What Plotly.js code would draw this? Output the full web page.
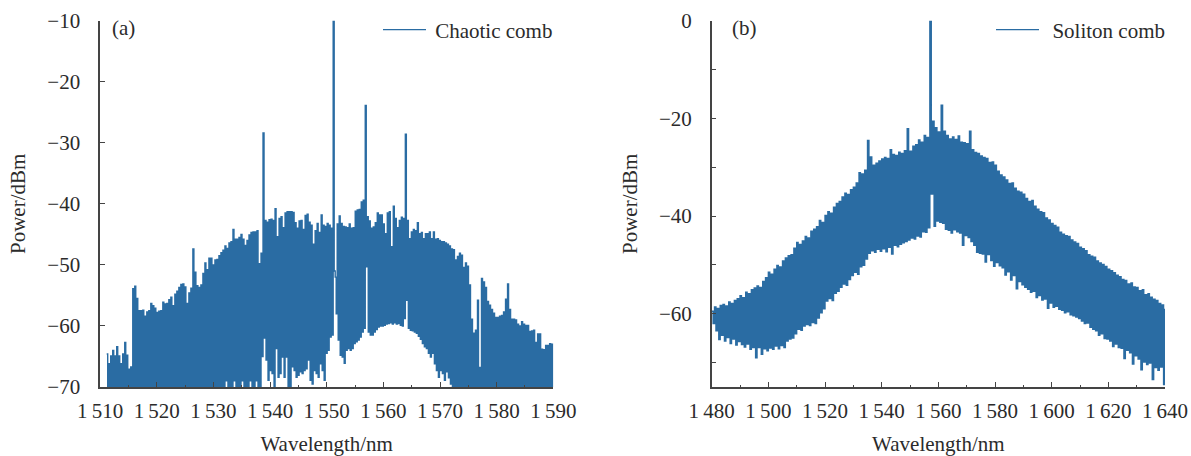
<!DOCTYPE html>
<html><head><meta charset="utf-8">
<script src="https://cdn.plot.ly/plotly-3.0.1.min.js"></script>
<style>html,body{margin:0;padding:0;background:#fff}#c{width:1191px;height:456px}</style>
</head><body><div id="c"></div>
<script>
// (a) chaotic comb: one peak and one floor value per comb line (dBm)
const chaoticStart = 1511.165, chaoticStep = 0.1769;
const chaoticPeaks = [
-64.6,-66.2,-64.9,-64.0,-64.9,-63.4,-64.9,-66.2,-64.6,-62.7,-64.8,-67.1,-66.7,-53.9,
-53.5,-55.5,-57.5,-57.5,-57.4,-58.4,-57.7,-57.5,-56.3,-56.7,-57.1,-57.8,-57.6,-57.5,-56.1,-56.4,-56.3,-55.7,-55.3,-56.7,-54.8,-54.3,-53.7,-53.2,-53.1,-53.6,-56.3,-54.6,-53.8,-47.4,-51.2,-53.4,-53.7,-53.3,-51.4,-49.7,-50.8,-48.9,-48.9,-50,-49.2,-49.1,-48.5,
-48,-47.6,-46.9,-47.3,-46.4,-46.2,-44.2,-45.8,-45.8,-45.5,-45,-45.8,-46.8,-46,-45.1,-44.7,-44.6,-44.6,-44.4,-49.8,-48.1,
-28.4,
-42.7,-43,-42.6,-42.5,-42.7,-40.8,-45.4,-42.4,-42.1,-43.9,-41.5,-41.3,-41.3,-41.3,-41.4,-43.1,-44,-42.8,-42.7,-44.2,-41.9,-41.7,-43,-43.5,-46.6,-44.4,-43.2,-44.7,-41.8,-43.5,-43.7,-43.2,-43.5,-44,
-10,-52,
-43.3,-42,-43.2,-43.7,-43.8,-43.9,-43.3,-44,-43.9,-41.2,-41,-40.9,-39.7,-39.4,
-23.9,
-42.1,-42.8,-44,-43.8,-43.1,-41.5,-41.8,-41.8,-43.3,-44.9,-41.5,-41.3,-47,-40.4,-42.4,-43.9,-42.7,-42.2,-42.4,
-28.6,
-42.7,-45.7,-44.6,-44.2,-44.4,-43.1,-44.9,-44.7,-45.7,-44.9,-44.9,-44.6,-45.7,-44.6,-45.8,-45.7,-46,-46.2,-46.2,
-46.4,-46.6,-46.9,-47.4,-47.5,-49.2,-48.6,-48.1,-48.4,-50.4,-49.7,-50.2,-53.3,-58.9,-61.2,-60.7,-55.8,-66.8,-52.2,-52.8,-53.7,-56,-56.6,-57.3,-57.9,-58.6,-58.6,-58.4,-58.3,-57.7,-55.6,-53.1,
-57.3,-58.9,-58.9,-59,-59.7,-60,-59.3,-59.7,-59.9,-59.9,-60.9,-60.8,-60.7,-62.7,-61.3,-61.3,-63.8,-63.9,-63.2,-63.2,-62.9,-63];
const chaoticFloors = [
-75,-75,-75,-75,-75,-75,-75,-75,-75,-75,
-75,-75,-75,-75,-75,-75,-75,-75,-75,-75,
-75,-75,-75,-75,-75,-75,-75,-75,-75,-75,
-75,-75,-75,-75,-75,-75,-75,-75,-75,-75,
-75,-75,-75,-75,-75,-75,-75,-75,-75,-75,
-75,-75,-75,-75,-75,-75,-75,-75,-75,-69,
-75,-75,-75,-69,-75,-75,-75,-69,-75,-75,
-75,-69,-75,-75,-69,-75,-75,-65,-62,-65.6,
-68.9,-67.3,-67.8,-72,-63.7,-68.4,-67.8,-65.1,-68.4,-65.1,-72,-72,-66.7,-67.3,-68.4,-68.1,-67.5,-67.8,-67.3,-67,-65.6,-68.9,-69.5,-67.3,-67.8,-68.4,-66.2,-67.3,-68.9,-64.5,-64,-61.8,
-61.5,-51,-58,
-62.3,-64.8,-65.1,-66.1,-64,-63.7,-64,-63.7,-62.9,-62.6,-62.3,-61.8,-61,-60.4,
-50.3,
-61,-61.5,-61.5,-61,-60.6,-60.2,-60,-60,-59.9,-59.7,-59.6,-59.5,-59.7,-59.5,-59.7,-59.6,-59.9,-60,-58.8,
-55.8,
-60.4,-60.7,-60.8,-61,-61.2,-61.7,-62.2,-62.9,-63.4,-63.7,-64.5,-65.1,-64.5,-66.2,-67.3,-68.4,-67.3,-67.8,-68.9,
-67.5,-68.5,-69.5,-70.5,-72,
-75,-75,-75,-75,-75,-75,-75,-75,-75,-75,
-75,-75,-75,-75,-75,-75,-75,-75,-75,-75,
-75,-75,-75,-75,-75,-75,-75,-75,-75,-75,
-75,-75,-75,-75,-75,-75,-75,-75,-75,-75,
-75,-75,-75,-75,-75,-75,-75,-75,-75];

// (b) soliton comb: upper and lower edge of the trace, one value per nm from 1480 nm
const solitonStart = 1480, solitonStep = 0.5;
const solitonUpper = [-59.5,
-58.6,-58.9,-58.3,-58.1,-58.4,-57.6,-57.9,-57.3,-56.9,-56.3,
-56.7,-55.6,-55.9,-55.1,-54.7,-54.3,-54.6,-53.4,-52.6,-51.5,
-51.9,-50.9,-50.1,-50.4,-49.2,-48.6,-48.1,-47.9,-46.6,-45.4,
-45.8,-45.1,-44.2,-44.5,-43.1,-42.7,-42.2,-40.9,-41.3,-39.9,
-39.1,-39.4,-38.2,-37.4,-37,-36.1,-35.3,-35.6,-34.6,-34.1,
-33.2,-31.1,-31.4,-30.6,-24.5,-27.9,-29.6,-29.2,-28.7,-28.3,
-28,-28.2,-26.4,-27.4,-27.6,-26.9,-27.2,-26.6,-22.1,-26.7,
-25.7,-25.4,-24.4,-24.9,-23.5,-23.9,0,-20.6,-21.9,-22.8,
-17.3,-22.6,-23.5,-24.2,-23.8,-24.3,-23.6,-24.9,-25,-25.2,
-22.6,-26.4,-27,-27.2,-27.7,-28,-28.2,-29,-28.9,-29.6,
-30.8,-31.6,-32,-32.6,-33.3,-33.2,-34.3,-34.9,-35.1,-35.5,
-36.4,-37,-36.8,-38,-38.6,-39.1,-39.3,-40.4,-40.8,-41.5,
-41.9,-42.3,-43.3,-43.7,-44,-44.2,-44.9,-45.3,-45.6,-46.4,
-46.7,-47.1,-47.9,-48.2,-48.4,-49.2,-49.6,-49.9,-50.3,-50.9,
-51.2,-51.6,-52.1,-52.4,-53,-53.2,-53.9,-53.7,-54.5,-54.6,
-55.3,-55.1,-56.1,-55.9,-56.6,-57,-57.3,-57.9,-58.2,-59.1];
const solitonLower = [-62,
-63.5,-65.3,-64.4,-65.6,-64.9,-66.1,-65.2,-66.4,-65.7,-66.3,
-66.8,-66.2,-67.3,-66.9,-69,-66.9,-68.3,-67.2,-67.6,-67,
-67.3,-66.6,-67.2,-66.5,-66.9,-65.6,-65.2,-65,-64.1,-63.2,
-63.4,-62.5,-62.2,-62.4,-61.8,-62,-60.9,-59.8,-59,-57.4,
-56.9,-57.3,-55.8,-55.4,-54.6,-53.9,-54.2,-53,-52.2,-51.5,
-51.9,-50.4,-50.1,-48.8,-47.6,-47.1,-47.4,-46.8,-47.2,-46.7,
-47.3,-46.4,-47.8,-46,-46.3,-45.8,-45.5,-45.2,-44.9,-44.5,
-44.7,-44.1,-44.3,-43.2,-43.3,-42.4,-35.5,-42.1,-41,-41.3,
-41.5,-42.7,-42.9,-43.5,-42.8,-43.2,-43.5,-46,-44,-44.4,
-45.2,-46,-47.4,-47.6,-47.8,-49.4,-47.9,-49.1,-50.3,-49.5,
-50.2,-50.6,-52.1,-51.4,-53.1,-52.2,-54.9,-53.4,-54.1,-54.6,
-55,-55.6,-55.4,-56.7,-56.3,-57.2,-57,-58.9,-57.8,-58.7,
-58.5,-59.1,-59.3,-59.8,-59.6,-60.2,-60.4,-60.7,-61,-61.5,
-62,-61.9,-62.8,-63.2,-63.5,-64.4,-64.1,-65.1,-65.2,-65.6,
-66.7,-66.2,-66.9,-67.1,-69.2,-67.5,-68,-70.3,-68.6,-69.3,
-71.5,-69.9,-70.4,-70.1,-73.5,-71,-71.6,-70.9,-74.5,-72];

const xTicksA = [1510,1520,1530,1540,1550,1560,1570,1580,1590];
const xLabelsA = ['1\u2009510','1\u2009520','1\u2009530','1\u2009540','1\u2009550','1\u2009560','1\u2009570','1\u2009580','1\u2009590'];
const xMinorA = [1515,1525,1535,1545,1555,1565,1575,1585];
const yTicksA = [-10,-20,-30,-40,-50,-60,-70];
const yLabelsA = ['\u221210','\u221220','\u221230','\u221240','\u221250','\u221260','\u221270'];
const xTicksB = [1480,1500,1520,1540,1560,1580,1600,1620,1640];
const xLabelsB = ['1\u2009480','1\u2009500','1\u2009520','1\u2009540','1\u2009560','1\u2009580','1\u2009600','1\u2009620','1\u2009640'];
const xMinorB = [1490,1510,1530,1550,1570,1590,1610,1630];
const yTicksB = [0,-20,-40,-60];
const yLabelsB = ['0','\u221220','\u221240','\u221260'];
const yMinorB = [-10,-30,-50,-70];

const W = 1191, H = 456, BLUE = '#2a6ca3', INK = '#2b2b2b', AXIS = '#444444';
const FONT = {family:'"Liberation Serif", serif', size:21, color:INK};
const interleave = (a,b) => a.flatMap((v,i)=>[v,b[i]]);

const traces = [
 {type:'scatter',mode:'lines',name:'\u2009Chaotic comb',x0:chaoticStart,dx:chaoticStep,
  y:interleave(chaoticPeaks,chaoticFloors),xaxis:'x',yaxis:'y',legend:'legend',
  line:{color:BLUE,width:1.4,shape:'hv',simplify:false}},
 {type:'scatter',mode:'lines',name:'\u2009\u2009Soliton comb',x0:solitonStart,dx:solitonStep,
  y:interleave(solitonUpper,solitonLower),xaxis:'x2',yaxis:'y2',legend:'legend2',
  line:{color:BLUE,width:1.4,shape:'hv',simplify:false}}
];
const axisBase = {showgrid:false,zeroline:false,showline:true,linecolor:AXIS,linewidth:1.5,
  ticks:'inside',ticklen:5,tickwidth:1.3,tickcolor:AXIS,tickfont:FONT,tickmode:'array',automargin:false};
const xAxis = (dom,range,tv,tt,minor)=>Object.assign({},axisBase,{domain:dom,range,tickvals:tv,ticktext:tt,
  ticklabelstandoff:4,
  minor:{tickmode:'array',tickvals:minor,ticks:'inside',ticklen:2.5,tickwidth:1.2,tickcolor:AXIS,showgrid:false},
  title:{text:'Wavelength/nm',font:FONT,standoff:17}});
const yDom = [1-387/H,1-20.7/H];
const layout = {
 width:W,height:H,margin:{l:0,r:0,t:0,b:0},paper_bgcolor:'#fff',plot_bgcolor:'#fff',font:FONT,showlegend:true,
 xaxis:xAxis([100.1/W,553.3/W],[1510,1590],xTicksA,xLabelsA,xMinorA),
 xaxis2:Object.assign(xAxis([711.7/W,1165/W],[1480,1640],xTicksB,xLabelsB,xMinorB),{anchor:'y2'}),
 yaxis:Object.assign({},axisBase,{domain:yDom,range:[-70,-10],tickvals:yTicksA,ticktext:yLabelsA,ticklabelstandoff:14,
   title:{text:'Power/dBm',font:FONT,standoff:16}}),
 yaxis2:Object.assign({},axisBase,{domain:yDom,range:[-75,0],anchor:'x2',tickvals:yTicksB,ticktext:yLabelsB,ticklabelstandoff:14,
   minor:{tickmode:'array',tickvals:yMinorB,ticks:'inside',ticklen:5,tickwidth:1.3,tickcolor:AXIS,showgrid:false},
   title:{text:'Power/dBm',font:FONT,standoff:16}}),
 legend:{x:378/W,y:1-30/H,xanchor:'left',yanchor:'middle',bgcolor:'rgba(0,0,0,0)',font:FONT,itemwidth:43,borderwidth:0},
 legend2:{x:991/W,y:1-30/H,xanchor:'left',yanchor:'middle',bgcolor:'rgba(0,0,0,0)',font:FONT,itemwidth:43,borderwidth:0},
 annotations:[
  {text:'(a)',xref:'paper',yref:'paper',x:123.5/W,y:1-28/H,xanchor:'center',yanchor:'middle',showarrow:false,font:FONT},
  {text:'(b)',xref:'paper',yref:'paper',x:744/W,y:1-28/H,xanchor:'center',yanchor:'middle',showarrow:false,font:FONT}
 ]
};
Plotly.newPlot('c',traces,layout,{displayModeBar:false,responsive:false});
</script></body></html>
